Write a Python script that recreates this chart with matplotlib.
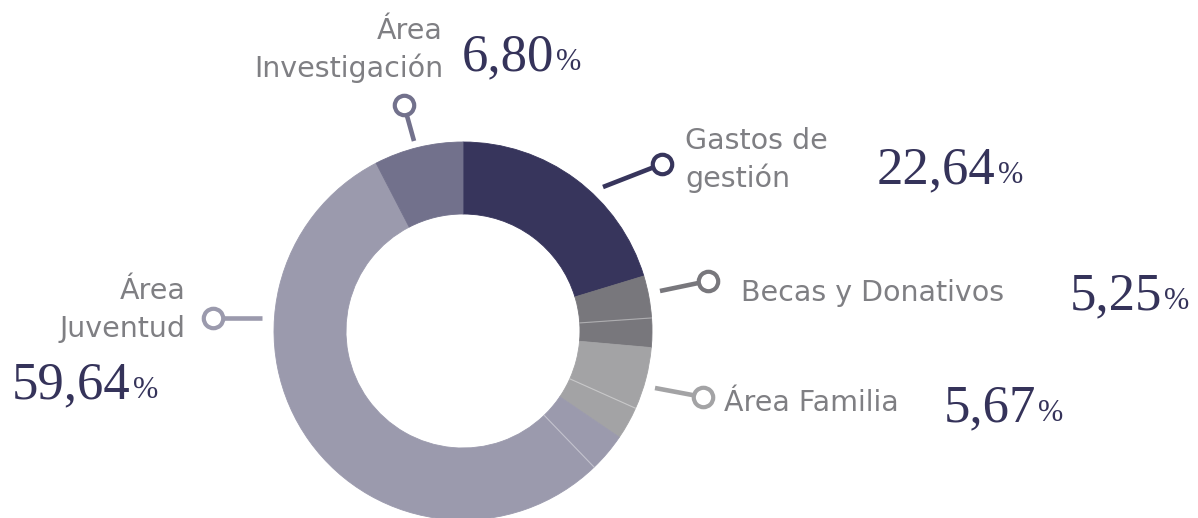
import matplotlib
matplotlib.use("Agg")
import matplotlib.pyplot as plt
import numpy as np

# ---------------- data ----------------
categories = ["Gastos de gestión", "Becas y Donativos", "Área Familia",
              "Área Juventud", "Área Investigación"]
percent_text = ["22,64", "5,25", "5,67", "59,64", "6,80"]
# ring shares as drawn in the picture (each category split in sub-slices)
sub_shares = [[20.3], [3.6, 2.5], [5.3, 2.8], [3.3, 54.6], [7.6]]
label_lines = [["Gastos de", "gestión"], ["Becas y Donativos"], ["Área Familia"],
               ["Área", "Juventud"], ["Área", "Investigación"]]

# ---------------- style / layout ----------------
colors = ["#37355c", "#78777c", "#a3a3a5", "#9b9aad", "#72718c"]
label_color = "#7f7f83"
num_color = "#35335a"
CX, CY, R_OUT, WIDTH = 463, 331, 189, 72
LABEL_FONT = "DejaVu Sans"

layout = [
    dict(lx=685, ha="left", lb=[149, 187], nx=877, nb=183, ls=(603, 187), le=(662, 164)),
    dict(lx=741, ha="left", lb=[301], nx=1070, nb=309, ls=(660, 291), le=(708, 281)),
    dict(lx=724, ha="left", lb=[411], nx=944, nb=421, ls=(655, 388), le=(703, 397)),
    dict(lx=186, ha="right", lb=[299, 337], nx=12, nb=398, ls=(262, 318), le=(213, 318)),
    dict(lx=443, ha="right", lb=[39, 77], nx=462, nb=70, ls=(414, 141), le=(404, 105)),
]

fig = plt.figure(figsize=(11.98, 5.18), dpi=100)
ax = fig.add_axes([0, 0, 1, 1])

flat_vals, flat_cols = [], []
for shares, c in zip(sub_shares, colors):
    for s in shares:
        flat_vals.append(s)
        flat_cols.append(c)

ax.pie(flat_vals, colors=flat_cols, radius=R_OUT, center=(CX, CY),
       startangle=-90, counterclock=True, normalize=True,
       wedgeprops=dict(width=WIDTH, linewidth=0.6, edgecolor="none", antialiased=True))
for w, c in zip(ax.patches, flat_cols):
    w.set_edgecolor(c)

# faint separators between sub-slices
total = sum(flat_vals)
cum = 0.0
for shares in sub_shares:
    for i, s in enumerate(shares):
        cum += s
        if i < len(shares) - 1:
            th = np.deg2rad(-90 + 360 * cum / total)
            r0, r1 = R_OUT - WIDTH, R_OUT
            ax.plot([CX + r0 * np.cos(th), CX + r1 * np.cos(th)],
                    [CY + r0 * np.sin(th), CY + r1 * np.sin(th)],
                    color="white", alpha=0.4, lw=0.8, zorder=3)

ax.set_xlim(0, 1198)
ax.set_ylim(518, 0)
ax.set_aspect("equal")
ax.axis("off")

num_texts = []
for lay, lines, c, pt in zip(layout, label_lines, colors, percent_text):
    (x0, y0), (x1, y1) = lay["ls"], lay["le"]
    ax.plot([x0, x1], [y0, y1], color=c, lw=3.3, solid_capstyle="butt", zorder=4)
    ax.plot([x1], [y1], "o", ms=14, mfc="white", mec=c, mew=3.0, zorder=5)
    for line, b in zip(lines, lay["lb"]):
        ax.text(lay["lx"], b, line, ha=lay["ha"], va="baseline", color=label_color,
                fontsize=20.5, family=LABEL_FONT, fontweight="normal")
    t = ax.text(lay["nx"], lay["nb"], pt, ha="left", va="baseline", color=num_color,
                fontsize=38, family="Liberation Serif")
    num_texts.append((t, lay["nb"]))

fig.canvas.draw()
r = fig.canvas.get_renderer()
for t, b in num_texts:
    bb = t.get_window_extent(r)
    xr = ax.transData.inverted().transform((bb.x1, bb.y0))[0]
    ax.text(xr + 2, b, "%", ha="left", va="baseline", color=num_color,
            fontsize=22, family="Liberation Serif")

fig.savefig("out.png", dpi=100)
